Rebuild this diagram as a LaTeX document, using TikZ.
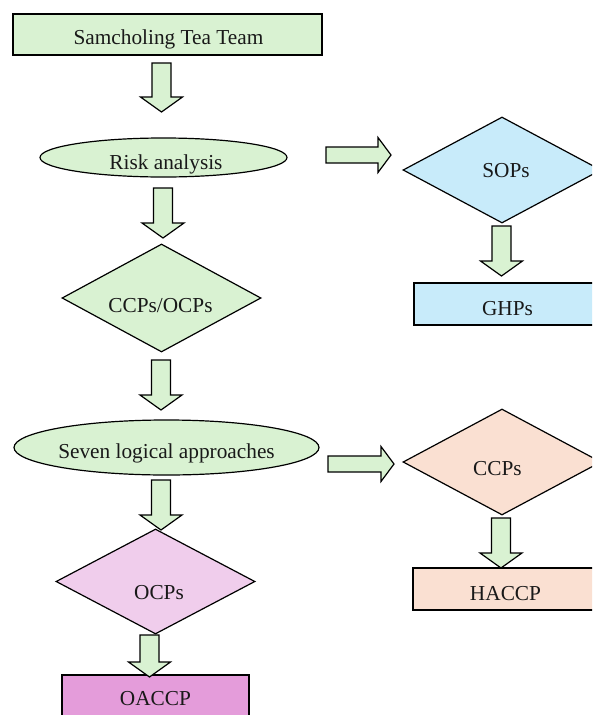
\documentclass[tikz,border=0pt]{standalone}
\usepackage{fontspec}
\setmainfont{Liberation Serif}
\usetikzlibrary{shapes.geometric,calc}
\definecolor{gfill}{RGB}{217,242,210}
\definecolor{bfill}{RGB}{200,235,250}
\definecolor{pfill}{RGB}{250,224,210}
\definecolor{mfill}{RGB}{240,205,236}
\definecolor{ofill}{RGB}{228,156,218}
\tikzset{
  every node/.style={inner sep=0pt},
  txt/.style={font=\fontsize{21.3}{24}\selectfont, anchor=base, text=black!90},
  boxnode/.style={draw, line width=1.4pt, rectangle},
  ellnode/.style={draw, line width=1.2pt, ellipse},
  dianode/.style={draw, line width=1.2pt, diamond},
  blk/.style={draw, line width=1.2pt, fill=gfill, line join=miter},
}
\newcommand{\vblk}[2]{\draw[blk] let \p1=(#1), \p2=(#2) in
  (\x1-9.5pt,\y1) -- (\x1+9.5pt,\y1) -- (\x1+9.5pt,\y2+15pt) -- (\x1+21pt,\y2+15pt)
  -- (\x1,\y2) -- (\x1-21pt,\y2+15pt) -- (\x1-9.5pt,\y2+15pt) -- cycle;}
\newcommand{\hblk}[2]{\draw[blk] let \p1=(#1), \p2=(#2) in
  (\x1,\y1+8pt) -- (\x1,\y1-8pt) -- (\x2-13pt,\y1-8pt) -- (\x2-13pt,\y1-17.5pt)
  -- (\x2,\y1) -- (\x2-13pt,\y1+17.5pt) -- (\x2-13pt,\y1+8pt) -- cycle;}
\begin{document}
\begin{tikzpicture}[x=1pt,y=-1pt]
\useasboundingbox (0,0) rectangle (592,715);
\clip (0,0) rectangle (592,715);
% left column shapes
\node[boxnode, fill=gfill, minimum width=309, minimum height=41] (team) at (167.5,34.5) {};
\node[ellnode, fill=gfill, minimum width=247, minimum height=39] (risk) at (163.5,157.5) {};
\node[dianode, fill=gfill, minimum width=199, minimum height=108] (ccpocp) at (161.5,298) {};
\node[ellnode, fill=gfill, minimum width=305, minimum height=55] (seven) at (166.5,447.5) {};
\node[dianode, fill=mfill, minimum width=199, minimum height=105] (ocp) at (155.5,581.5) {};
\node[boxnode, fill=ofill, minimum width=187, minimum height=60] (oaccp) at (155.5,705) {};
% right column shapes
\node[dianode, fill=bfill, minimum width=198, minimum height=106] (sop) at (502,170) {};
\node[boxnode, fill=bfill, minimum width=200, minimum height=42] (ghp) at (514,304) {};
\node[dianode, fill=pfill, minimum width=198, minimum height=106] (ccp) at (502,462) {};
\node[boxnode, fill=pfill, minimum width=200, minimum height=42] (haccp) at (513,589) {};
% texts
\node[txt] (tteam) at (168.5,44) {Samcholing Tea Team};
\node[txt] (trisk) at (166,169) {Risk analysis};
\node[txt] (tccpocp) at (160.5,312) {CCPs/OCPs};
\node[txt] (tseven) at (166.5,458) {Seven logical approaches};
\node[txt] (tocp) at (159,599) {OCPs};
\node[txt] (toaccp) at (155.5,705) {OACCP};
\node[txt] (tsop) at (506,177) {SOPs};
\node[txt] (tghp) at (507.5,315) {GHPs};
\node[txt] (tccp) at (497.5,475) {CCPs};
\node[txt] (thaccp) at (505.5,600) {HACCP};
% block arrow anchors
\coordinate (a1s) at (161.5,63);  \coordinate (a1e) at (161.5,112);
\coordinate (a2s) at (163,188);   \coordinate (a2e) at (163,238);
\coordinate (a3s) at (161,360);   \coordinate (a3e) at (161,410);
\coordinate (a4s) at (161,480);   \coordinate (a4e) at (161,530);
\coordinate (a5s) at (149.5,635); \coordinate (a5e) at (149.5,677);
\coordinate (b1s) at (326,155);   \coordinate (b1e) at (391,155);
\coordinate (b2s) at (501.5,226); \coordinate (b2e) at (501.5,276);
\coordinate (c1s) at (328,464);   \coordinate (c1e) at (394,464);
\coordinate (c2s) at (501,518);   \coordinate (c2e) at (501,568);
\vblk{a1s}{a1e}
\vblk{a2s}{a2e}
\vblk{a3s}{a3e}
\vblk{a4s}{a4e}
\vblk{a5s}{a5e}
\hblk{b1s}{b1e}
\vblk{b2s}{b2e}
\hblk{c1s}{c1e}
\vblk{c2s}{c2e}
\end{tikzpicture}
\end{document}
